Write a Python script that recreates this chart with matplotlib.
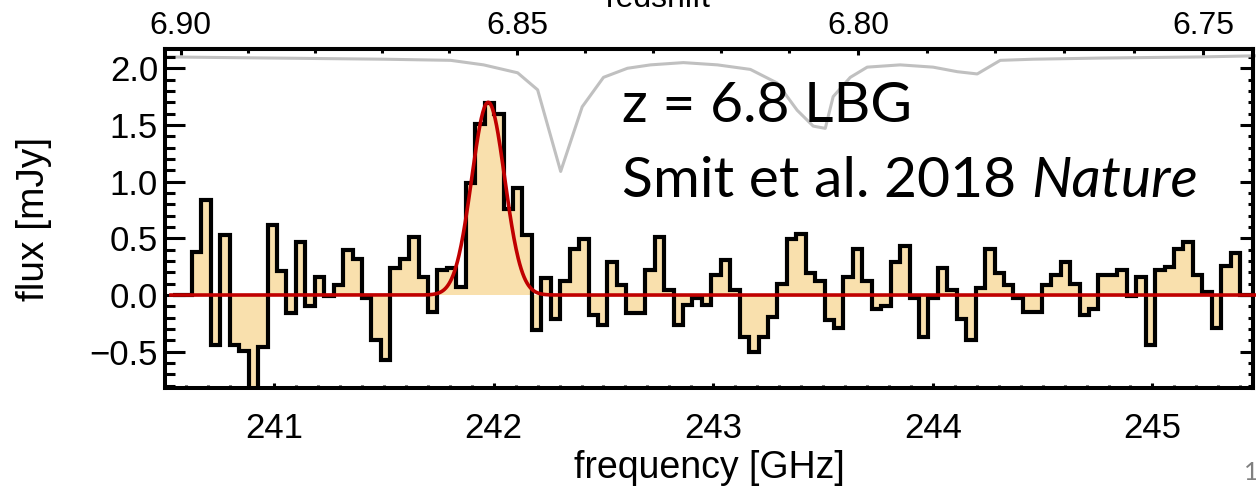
import numpy as np
import matplotlib.pyplot as plt
from matplotlib.ticker import MultipleLocator, FormatStrFormatter

# [CII] 158um rest frequency, used for the redshift axis
CII_REST = 1900.537

# binned spectrum: first channel edge, channel width (GHz) and flux per channel (mJy)
chan_start = 240.540
chan_width = 0.0430
flux = [
    0.0, 0.0,
    0.38, 0.84, -0.44, 0.53, -0.44, -0.49, -0.90, -0.46, 0.62, 0.21,
    -0.16, 0.47, -0.10, 0.16, -0.01, 0.09, 0.40, 0.32, -0.03, -0.40,
    -0.57, 0.24, 0.32, 0.51, 0.16, -0.15, 0.22, 0.235, 0.07, 0.99,
    1.51, 1.69, 1.60, 0.76, 0.94, 0.53, -0.31, 0.15, -0.21, 0.12,
    0.41,
    0.49, -0.18, -0.26, 0.29, 0.09, -0.16, -0.16, 0.22, 0.51, 0.04,
    -0.26, -0.09, -0.03, -0.09, 0.18, 0.31, 0.04, -0.37, -0.50, -0.37,
    -0.19, 0.10, 0.49, 0.54, 0.19, 0.12, -0.22, -0.29, 0.16, 0.41,
    0.12, -0.12,
    -0.10, 0.29, 0.43, -0.03, -0.37, -0.03, 0.235, 0.04, -0.21, -0.40,
    0.06, 0.41, 0.19, 0.09, -0.03, -0.15, -0.15, 0.09, 0.18, 0.29,
    0.10, -0.18, -0.12, 0.18, 0.18, 0.22, -0.01, 0.16, -0.44, 0.22,
    0.25, 0.41, 0.47, 0.18, 0.03, -0.29, 0.26, 0.37, 0.0, 0.0,
]

# gaussian line fit
fit_amp = 1.70
fit_center = 241.975
fit_sigma = 0.075
fit_range = (240.53, 245.47)

# atmospheric transmission (scaled), drawn in grey along the top
atm_freq = [240.507, 241.00, 241.50, 241.804, 241.954, 242.109, 242.200, 242.305,
            242.403, 242.500, 242.609, 242.714, 242.864, 243.019, 243.169,
            243.291, 243.382, 243.455, 243.510, 243.546, 243.624, 243.701,
            243.851, 244.001, 244.111, 244.202, 244.307, 244.457, 244.762,
            245.217, 245.472]
atm_level = [2.10, 2.09, 2.08, 2.07, 2.03, 1.96, 1.81, 1.09,
             1.66, 1.92, 2.00, 2.03, 2.05, 2.03, 1.99,
             1.87, 1.63, 1.49, 1.47, 1.75, 1.92, 2.01,
             2.03, 2.01, 1.97, 1.95, 2.07, 2.08, 2.09,
             2.10, 2.11]

freq_ticks = [241, 242, 243, 244, 245]
z_ticks = [6.90, 6.85, 6.80, 6.75]

W, H = 1256, 492
axis_font = ['Liberation Sans', 'DejaVu Sans']
note_font = ['Lato', 'DejaVu Sans']

fig = plt.figure(figsize=(W / 100, H / 100), dpi=100)
ax = fig.add_axes([165 / W, 1 - 388 / H, (1253 - 165) / W, (388 - 49) / H])

edges = chan_start + chan_width * np.arange(len(flux) + 1)
ax.stairs(flux, edges, baseline=0, fill=True, color='#f9e0ad', lw=0, zorder=2)
ax.stairs(flux, edges, baseline=0, color='black', lw=3.0, zorder=3)

ff = np.linspace(fit_range[0], fit_range[1], 1500)
model = fit_amp * np.exp(-0.5 * ((ff - fit_center) / fit_sigma) ** 2)
ax.plot(ff, model, color='#c00000', lw=2.6, zorder=4, clip_on=False)

ax.plot(atm_freq, atm_level, color='#c0c0c0', lw=2.2, zorder=1, clip_on=False)

ax.set_xlim(240.503, 245.458)
ax.set_ylim(-0.82, 2.17)

ax.set_xticks(freq_ticks)
ax.xaxis.set_minor_locator(MultipleLocator(0.1))
ax.yaxis.set_major_locator(MultipleLocator(0.5))
ax.yaxis.set_minor_locator(MultipleLocator(0.1))

for sp in ax.spines.values():
    sp.set_linewidth(2.9)

ax.tick_params(axis='y', which='major', direction='in', length=14.4, width=2.2,
               labelsize=25, pad=5)
ax.tick_params(axis='y', which='minor', direction='in', length=7.2, width=2.2)
ax.tick_params(axis='x', which='major', direction='in', length=3.6, width=2.2,
               labelsize=25, pad=17)
ax.tick_params(axis='x', which='minor', direction='in', length=2.2, width=2.2)
for lab in ax.get_xticklabels() + ax.get_yticklabels():
    lab.set_family(axis_font)

ax.set_xlabel('frequency [GHz]', fontsize=27, family=axis_font, labelpad=4)
ax.set_ylabel('flux [mJy]', fontsize=28, family=axis_font, labelpad=27)

# redshift axis on top
top = ax.secondary_xaxis('top', functions=(lambda f: CII_REST / f - 1,
                                           lambda z: CII_REST / (z + 1)))
top.set_xticks(z_ticks)
top.xaxis.set_minor_locator(MultipleLocator(0.01))
top.xaxis.set_major_formatter(FormatStrFormatter('%.2f'))
top.tick_params(which='major', direction='in', length=4.3, width=2.2,
                labelsize=23, pad=6)
top.tick_params(which='minor', direction='in', length=2.9, width=2.2)
for lab in top.get_xticklabels():
    lab.set_family(axis_font)
top.spines['top'].set_linewidth(2.9)

# right axis, ticks only
right = ax.secondary_yaxis('right', functions=(lambda y: y, lambda y: y))
right.yaxis.set_major_locator(MultipleLocator(0.5))
right.yaxis.set_minor_locator(MultipleLocator(0.1))
right.tick_params(which='major', direction='in', length=9.4, width=2.2,
                  labelright=False)
right.tick_params(which='minor', direction='in', length=3.6, width=2.2)
right.spines['right'].set_linewidth(2.9)

fig.text(658 / W, 1 - 7 / H, 'redshift', ha='center', va='baseline',
         fontsize=23, family=axis_font)

fig.text(622 / W, 1 - 122 / H, 'z = 6.8 LBG', ha='left', va='baseline',
         fontsize=41, family=note_font)
ref = fig.text(622 / W, 1 - 197 / H, 'Smit et al. 2018 ', ha='left',
               va='baseline', fontsize=41, family=note_font)
fig.canvas.draw()
bb = ref.get_window_extent()
fig.text(bb.x1 / W, 1 - 197 / H, 'Nature', ha='left', va='baseline',
         fontsize=41, family=note_font, style='italic')

fig.text(1244 / W, 1 - 472 / H, '1', ha='left', va='center', fontsize=18,
         color='#808080', family=note_font)

fig.savefig('out.png', dpi=100)
